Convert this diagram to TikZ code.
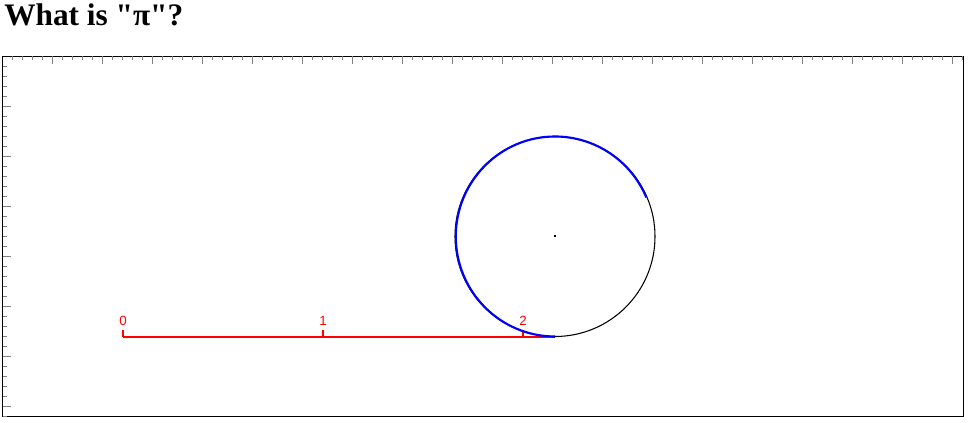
\documentclass[tikz,border=0pt]{standalone}
\usepackage{fontspec}
\setmainfont{Liberation Serif}
\newfontfamily\titlefont{Liberation Serif}
\newfontfamily\labelfont{Liberation Sans}
\definecolor{tickgray}{HTML}{808080}
\begin{document}
\begin{tikzpicture}[x=0.75pt,y=-0.75pt,
  tickmark/.style={draw=tickgray,line width=1pt},
  framebox/.style={draw=black,line width=0.8pt},
  rulerline/.style={draw=red,line width=1.5pt},
  rulertick/.style={draw=red,line width=1.2pt},
  rulerlabel/.style={text=red,font=\labelfont\fontsize{10}{11}\selectfont,inner sep=0pt,anchor=base},
  arcline/.style={draw=blue,line width=1.6pt}]
\useasboundingbox (0,0) rectangle (970,423);
% title
\node[anchor=base west,inner sep=0pt,font=\titlefont\fontsize{23.5}{27}\selectfont\bfseries] (title) at (4,25.5) {What is "π"?};
% frame
\draw[framebox] (2.5,56.5) rectangle (963.5,416.5);
% top ticks
\foreach \i in {1,...,96}{
  \pgfmathsetmacro{\xx}{2.5+10*\i}
  \pgfmathtruncatemacro{\m}{mod(\i,5)}
  \ifnum\m=0
    \draw[tickmark] (\xx,56.5) -- (\xx,64.5);
  \else
    \draw[tickmark] (\xx,56.5) -- (\xx,60.5);
  \fi
}
% left ticks
\foreach \i in {1,...,36}{
  \pgfmathsetmacro{\yy}{56.5+10*\i}
  \pgfmathtruncatemacro{\m}{mod(\i,5)}
  \ifnum\m=0
    \draw[tickmark] (2.5,\yy) -- (10.5,\yy);
  \else
    \draw[tickmark] (2.5,\yy) -- (6.5,\yy);
  \fi
}
% circle and centre
\coordinate (c) at (555,236.5);
\draw[black,line width=0.8pt] (c) circle[radius=100];
\fill[black] (554,235.5) rectangle (556,237.5);
% red ruler
\coordinate (r0) at (123,337);
\coordinate (rend) at (555,337);
\draw[rulerline] (r0) -- (rend);
\foreach \k/\xx in {0/123,1/323,2/523}{
  \draw[rulertick] (\xx,337) -- (\xx,330);
  \node[rulerlabel] (lab\k) at (\xx,325.5) {\k};
}
% blue rolled arc
\draw[arcline] (555,336.5) arc[start angle=90,end angle=337,x radius=99.2,y radius=100];
\end{tikzpicture}
\end{document}
